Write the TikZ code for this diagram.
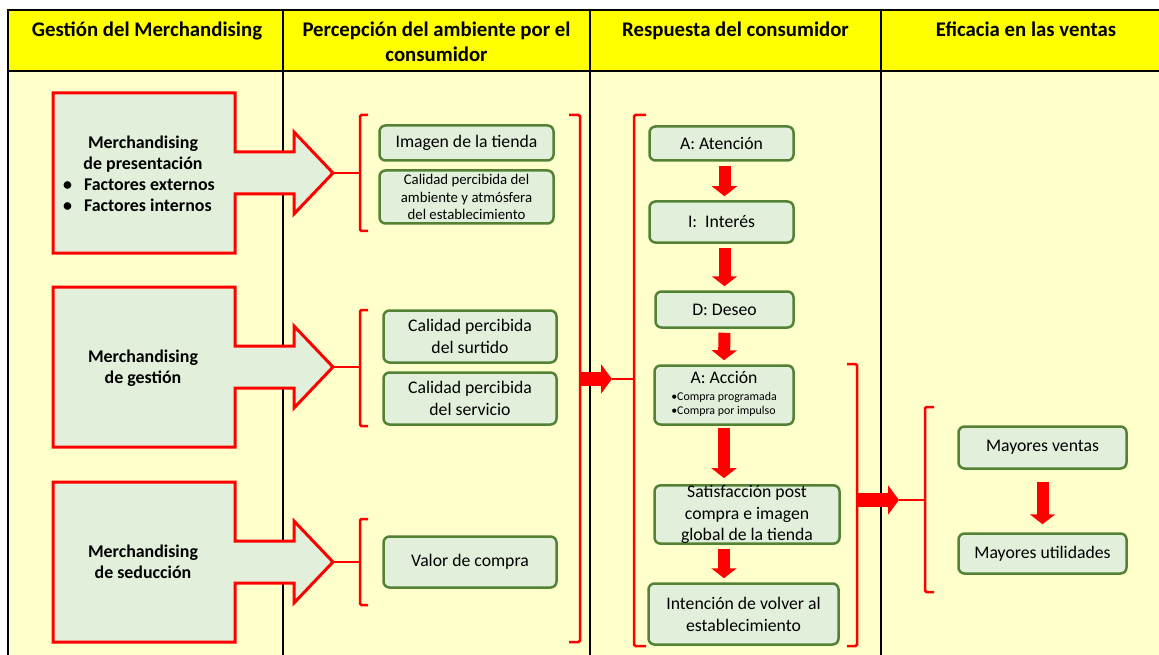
\documentclass[tikz,border=0pt]{standalone}
\usepackage{fontspec}
\setmainfont{Carlito}
\usepackage{xcolor}
\usetikzlibrary{arrows.meta,positioning,calc}
\definecolor{hdryellow}{RGB}{255,255,0}
\definecolor{bodyyellow}{RGB}{255,255,204}
\definecolor{boxgreen}{RGB}{226,239,218}
\definecolor{edgegreen}{RGB}{84,130,53}

\begin{document}
\begin{tikzpicture}[x=1pt,y=-1pt,
	stage/.style={draw=edgegreen, fill=boxgreen, line width=2.5pt, rounded corners=6pt, align=center, inner sep=0pt, font=\fontsize{17.7}{22}\selectfont},
	brk/.style={draw=red, line width=2.5pt, rounded corners=1.5pt},
	bigarrow/.style={draw=red, line width=14pt, -{Triangle[length=11pt,width=29pt]}},
	downarrow/.style={draw=red, line width=12pt, -{Triangle[length=10pt,width=25pt]}, shorten <=4pt, shorten >=4pt},
	hdr/.style={font=\fontsize{20.8}{25}\selectfont\bfseries, align=center},
	merch/.style={font=\fontsize{17.9}{21}\selectfont\bfseries, align=center},
	tableline/.style={draw=black, line width=1.2pt}]
	\useasboundingbox (0,0) rectangle (1159,655);
	
	% table
	\fill[hdryellow] (8,10) rectangle (1159,71);
	\fill[bodyyellow] (8,71) rectangle (1159,655);
	\draw[tableline] (1159,10) -- (8,10) -- (8,655);
	\draw[tableline] (8,71) -- (1159,71);
	\foreach \cx in {283,590,881}
		\draw[tableline] (\cx,10) -- (\cx,655);
	
	\node[hdr, anchor=base] (hgestion) at (147,36.5) {Gestión del Merchandising};
	\node[hdr] (hpercep) at (436.5,42) {Percepción del ambiente por el\\consumidor};
	\node[hdr, anchor=base] (hrespuesta) at (735.5,36.5) {Respuesta del consumidor};
	\node[hdr, anchor=base] (heficacia) at (1026,36.5) {Eficacia en las ventas};
	
	% merchandising arrows
	\foreach \ty/\nm in {173/pres,367/gest,562/sedu}{
		\draw[red, line width=3pt, fill=boxgreen, line join=miter]
			(53,\ty-80) -- (235,\ty-80) -- (235,\ty-21) -- (294,\ty-21) -- (294,\ty-41) -- (333,\ty)
			-- (294,\ty+41) -- (294,\ty+21) -- (235,\ty+21) -- (235,\ty+80) -- (53,\ty+80) -- cycle;
		\coordinate (t\nm) at (333,\ty);
	}
	\node[merch] (mpres) at (143,176.5)
		{Merchandising\\de presentación\\\begin{tabular}[t]{@{}l@{\hspace{12pt}}l@{}}\textbullet & Factores externos\\\textbullet & Factores internos\end{tabular}\hspace*{8pt}};
	\node[merch] (mgest) at (143,368.5) {Merchandising\\de gestión};
	\node[merch] (msedu) at (143,562) {Merchandising\\de seducción};
	
	% perception
	\node[stage, minimum width=174pt, minimum height=35pt] (imagen) at (466.5,143) {Imagen de la tienda};
	\node[stage, minimum width=174pt, minimum height=53pt, font=\fontsize{14.8}{17.5}\selectfont] (ambiente) at (466.5,197)
		{Calidad percibida del\\ambiente y atmósfera\\del establecimiento};
	\node[stage, minimum width=173pt, minimum height=52pt] (surtido) at (470,336.5) {Calidad percibida\\del surtido};
	\node[stage, minimum width=173pt, minimum height=52pt] (servicio) at (470,398.5) {Calidad percibida\\del servicio};
	\node[stage, minimum width=173pt, minimum height=51pt] (valor) at (470,562) {Valor de compra};
	
	\coordinate (b1) at (360,173);
	\coordinate (b2) at (360,367);
	\coordinate (b3) at (360,562);
	\draw[brk] (368,115) -- (360,115) -- (360,231) -- (368,231);
	\draw[brk] (368,310) -- (360,310) -- (360,426) -- (368,426);
	\draw[brk] (368,519) -- (360,519) -- (360,605) -- (368,605);
	\draw[brk] (tpres) -- (b1);
	\draw[brk] (tgest) -- (b2);
	\draw[brk] (tsedu) -- (b3);
	
	% response
	\node[stage, minimum width=144pt, minimum height=34pt] (atencion) at (721.5,143.5) {A: Atención};
	\node[stage, minimum width=144pt, minimum height=41pt] (interes) at (721.5,222) {I:~~Interés};
	\node[stage, minimum width=138pt, minimum height=36pt] (deseo) at (724.5,309.5) {D: Deseo};
	\node[stage, minimum width=139pt, minimum height=59pt] (accion) at (724,395)
		{A: Acción\\[-5pt]{\fontsize{11.9}{14}\selectfont\begin{tabular}[t]{@{}l@{}}•Compra programada\\•Compra por impulso\end{tabular}}};
	\node[stage, minimum width=185pt, minimum height=58pt, font=\fontsize{17.7}{21.5}\selectfont] (satis) at (747,514.5)
		{Satisfacción post\\compra e imagen\\global de la tienda};
	\node[stage, minimum width=190pt, minimum height=61pt] (intencion) at (743.5,614)
		{Intención de volver al\\establecimiento};
	
	\draw[downarrow] (atencion.south -| deseo) -- (interes.north -| deseo);
	\draw[downarrow] (interes.south -| deseo) -- (deseo.north);
	\draw[downarrow] (deseo.south) -- (accion.north);
	\draw[downarrow, shorten <=2pt, shorten >=6pt] (accion.south) -- (accion.south |- satis.north);
	\draw[downarrow] (satis.south -| accion) -- (intencion.north -| accion);
	
	\coordinate (bR2) at (580,379);
	\coordinate (bL3) at (634,379);
	\coordinate (bR3) at (857,500);
	\coordinate (bL4) at (925,500);
	\draw[brk] (569,115) -- (580,115) -- (580,642) -- (569,642);
	\draw[brk] (646,115) -- (634,115) -- (634,646) -- (646,646);
	\draw[brk] (847,364) -- (857,364) -- (857,646) -- (847,646);
	\draw[brk] (934,407) -- (925,407) -- (925,592) -- (934,592);
	
	\coordinate (a1) at (612,379);
	\coordinate (a2) at (899,500);
	\draw[bigarrow] (bR2) -- (a1);
	\draw[brk] (a1) -- (bL3);
	\draw[bigarrow] (bR3) -- (a2);
	\draw[brk] (a2) -- (bL4);
	
	% sales
	\node[stage, minimum width=168pt, minimum height=42pt] (ventas) at (1042.5,447.5) {Mayores ventas};
	\node[stage, minimum width=168pt, minimum height=40pt] (utilidades) at (1042.5,553.5) {Mayores utilidades};
	\draw[downarrow, shorten <=12pt, shorten >=8pt] (ventas.south) -- (utilidades.north);
\end{tikzpicture}
\end{document}
